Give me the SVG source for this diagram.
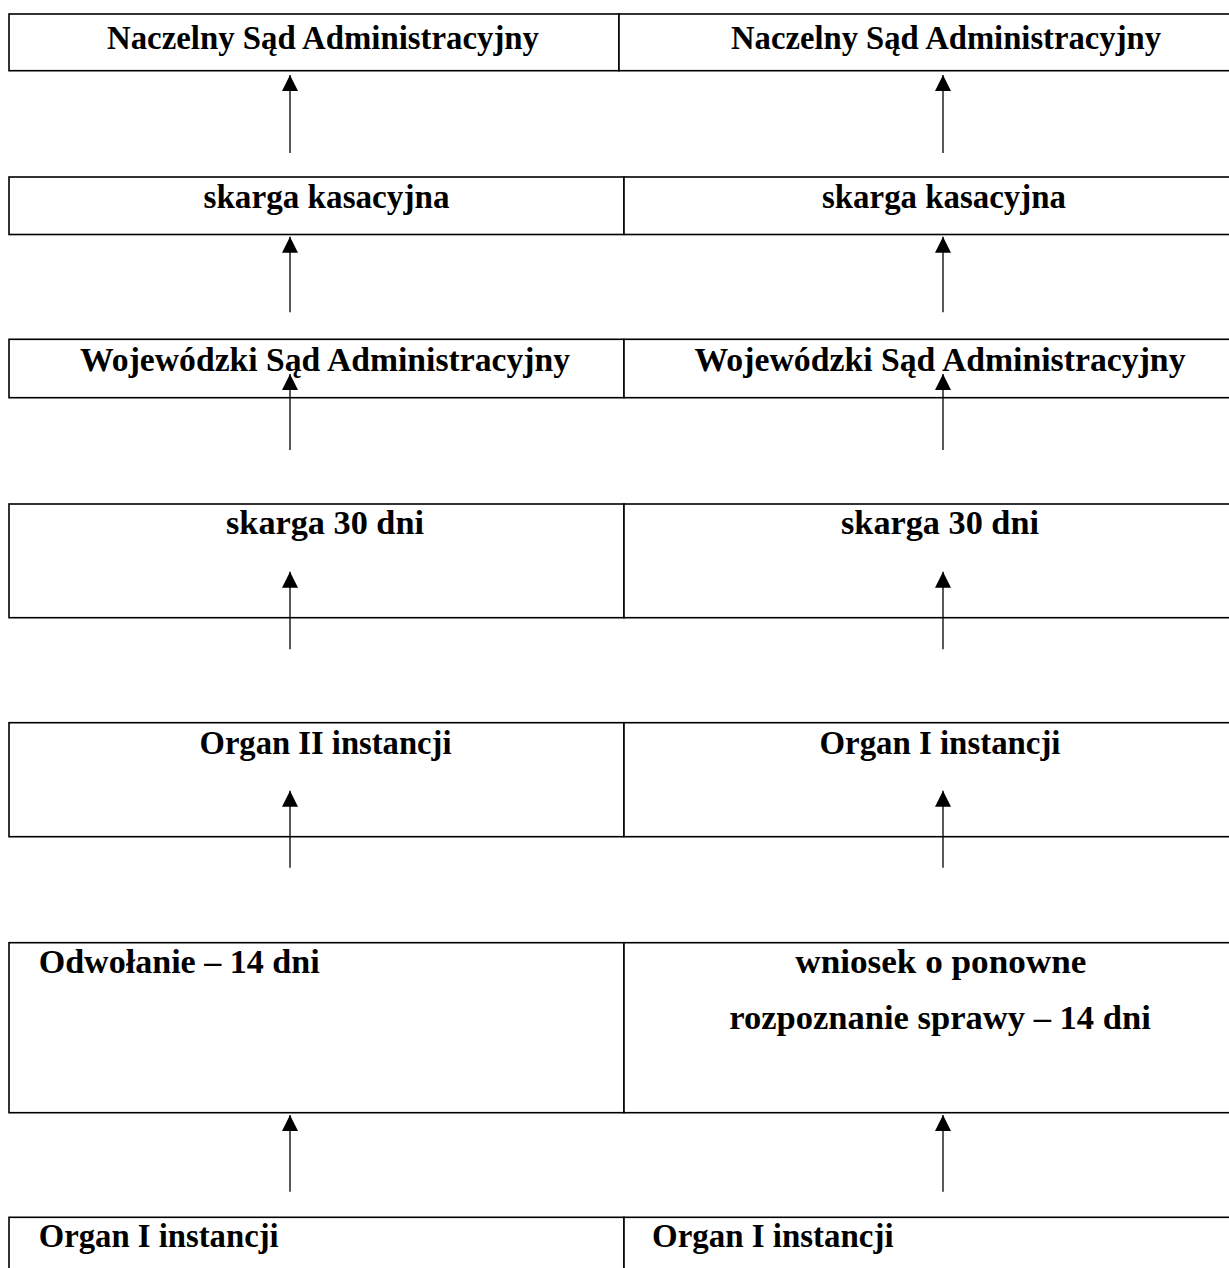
<svg xmlns="http://www.w3.org/2000/svg" width="1229" height="1268" viewBox="0 0 1229 1268">
<style>
.cell{fill:#fff;stroke:#000;stroke-width:1.6}
.t{font-family:"Liberation Serif","Times New Roman",serif;font-weight:bold;font-size:33px;fill:#000}
.c{text-anchor:middle}
.arr{stroke:#000;stroke-width:1.3;fill:none;marker-end:url(#ah)}
</style>
<defs>
<marker id="ah" markerUnits="userSpaceOnUse" markerWidth="17" markerHeight="17" refX="16" refY="8" orient="auto" viewBox="0 0 17 17">
<path d="M0,0 L16,8 L0,16 z" fill="#000"/>
</marker>
</defs>
<rect width="1229" height="1268" fill="#fff"/>

<g id="row1-left"><rect class="cell" x="9" y="14" width="610" height="56.7"/><text class="t c" x="323" y="49.3" textLength="432" lengthAdjust="spacingAndGlyphs">Naczelny Sąd Administracyjny</text></g>
<g id="row1-right"><rect class="cell" x="619" y="14" width="620" height="56.7"/><text class="t c" x="946" y="49.3" textLength="430" lengthAdjust="spacingAndGlyphs">Naczelny Sąd Administracyjny</text></g>

<g id="row2-left"><rect class="cell" x="9" y="177" width="615" height="57.5"/><text class="t c" x="326.5" y="208" textLength="246" lengthAdjust="spacingAndGlyphs">skarga kasacyjna</text></g>
<g id="row2-right"><rect class="cell" x="624" y="177" width="615" height="57.5"/><text class="t c" x="944" y="208" textLength="244" lengthAdjust="spacingAndGlyphs">skarga kasacyjna</text></g>

<g id="row3-left"><rect class="cell" x="9" y="339.3" width="615" height="58.4"/><text class="t c" x="325" y="370.7" textLength="490" lengthAdjust="spacingAndGlyphs">Wojewódzki Sąd Administracyjny</text></g>
<g id="row3-right"><rect class="cell" x="624" y="339.3" width="615" height="58.4"/><text class="t c" x="940" y="370.7" textLength="491" lengthAdjust="spacingAndGlyphs">Wojewódzki Sąd Administracyjny</text></g>

<g id="row4-left"><rect class="cell" x="9" y="504" width="615" height="113.7"/><text class="t c" x="325" y="534" textLength="198" lengthAdjust="spacingAndGlyphs">skarga 30 dni</text></g>
<g id="row4-right"><rect class="cell" x="624" y="504" width="615" height="113.7"/><text class="t c" x="940" y="534" textLength="198" lengthAdjust="spacingAndGlyphs">skarga 30 dni</text></g>

<g id="row5-left"><rect class="cell" x="9" y="722.7" width="615" height="114"/><text class="t c" x="325.5" y="754.3" textLength="252" lengthAdjust="spacingAndGlyphs">Organ II instancji</text></g>
<g id="row5-right"><rect class="cell" x="624" y="722.7" width="615" height="114"/><text class="t c" x="940" y="754.3" textLength="241" lengthAdjust="spacingAndGlyphs">Organ I instancji</text></g>

<g id="row6-left"><rect class="cell" x="9" y="942.7" width="615" height="170"/><text class="t" x="38.7" y="973.3" textLength="281" lengthAdjust="spacingAndGlyphs">Odwołanie – 14 dni</text></g>
<g id="row6-right"><rect class="cell" x="624" y="942.7" width="615" height="170"/><text class="t c" x="940.8" y="973.3" textLength="291" lengthAdjust="spacingAndGlyphs">wniosek o ponowne</text><text class="t c" x="940" y="1029.3" textLength="421.5" lengthAdjust="spacingAndGlyphs">rozpoznanie sprawy – 14 dni</text></g>

<g id="row7-left"><rect class="cell" x="9" y="1217.3" width="615" height="80"/><text class="t" x="38.7" y="1246.7" textLength="240" lengthAdjust="spacingAndGlyphs">Organ I instancji</text></g>
<g id="row7-right"><rect class="cell" x="624" y="1217.3" width="615" height="80"/><text class="t" x="652.1" y="1246.7" textLength="241.5" lengthAdjust="spacingAndGlyphs">Organ I instancji</text></g>

<g id="connectors">
<line class="arr" x1="290" y1="153" x2="290" y2="75"/>
<line class="arr" x1="943" y1="153" x2="943" y2="75"/>
<line class="arr" x1="290" y1="312.3" x2="290" y2="236.7"/>
<line class="arr" x1="943" y1="312.3" x2="943" y2="236.7"/>
<line class="arr" x1="290" y1="450" x2="290" y2="374"/>
<line class="arr" x1="943" y1="450" x2="943" y2="374"/>
<line class="arr" x1="290" y1="649.3" x2="290" y2="571.7"/>
<line class="arr" x1="943" y1="649.3" x2="943" y2="571.7"/>
<line class="arr" x1="290" y1="867.7" x2="290" y2="790.7"/>
<line class="arr" x1="943" y1="867.7" x2="943" y2="790.7"/>
<line class="arr" x1="290" y1="1191.7" x2="290" y2="1115"/>
<line class="arr" x1="943" y1="1191.7" x2="943" y2="1115"/>
</g>
</svg>
